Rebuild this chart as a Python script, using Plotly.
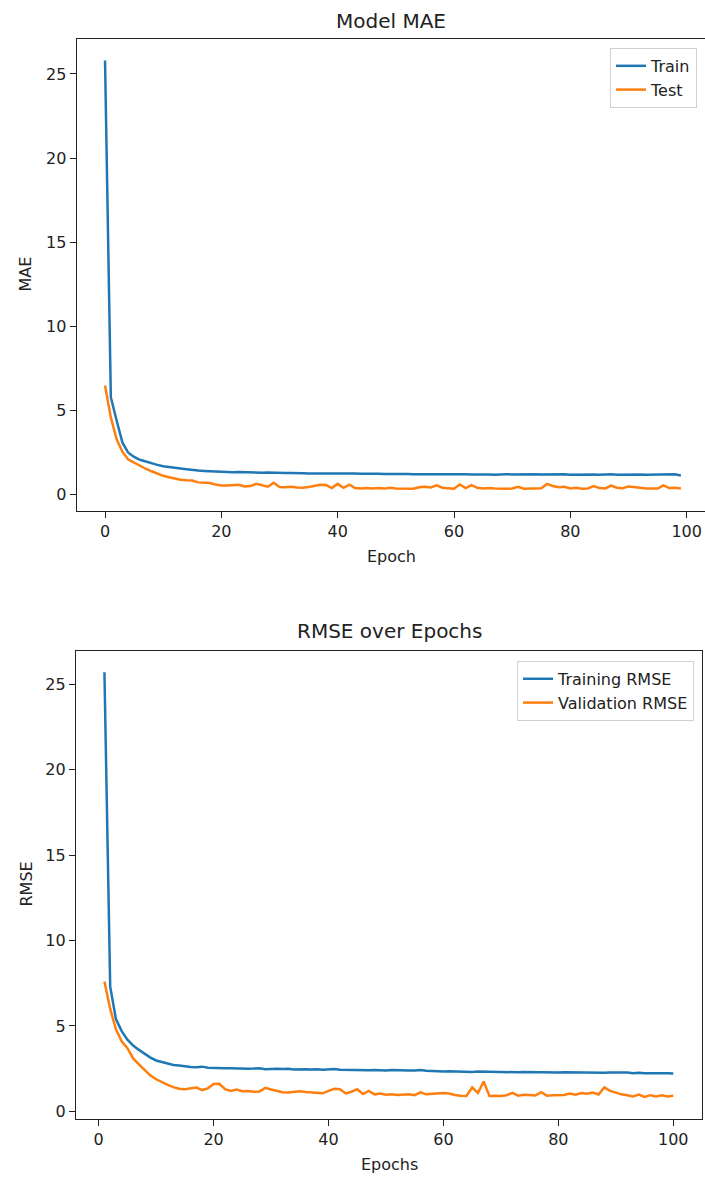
import plotly.graph_objects as go

# ---------------- data ----------------
mae_epochs = list(range(0, 100))
mae_train = [
    25.8, 5.8, 4.4, 3.1, 2.5, 2.25, 2.08, 1.97, 1.88, 1.78,
    1.70, 1.64, 1.60, 1.56, 1.52, 1.47, 1.44, 1.42, 1.40, 1.38,
    1.36, 1.35, 1.34, 1.35, 1.33, 1.32, 1.33, 1.31, 1.32, 1.30,
    1.31, 1.30, 1.29, 1.30, 1.28, 1.27, 1.28, 1.27, 1.26, 1.27,
    1.26, 1.27, 1.25, 1.26, 1.25, 1.26, 1.24, 1.25, 1.24, 1.25,
    1.24, 1.25, 1.24, 1.23, 1.24, 1.23, 1.24, 1.23, 1.22, 1.23,
    1.22, 1.23, 1.22, 1.21, 1.22, 1.23, 1.21, 1.20, 1.22, 1.23,
    1.21, 1.22, 1.21, 1.20, 1.22, 1.21, 1.22, 1.20, 1.21, 1.22,
    1.20, 1.21, 1.22, 1.20, 1.21, 1.19, 1.21, 1.22, 1.20, 1.21,
    1.19, 1.20, 1.21, 1.19, 1.20, 1.21, 1.19, 1.20, 1.22, 1.15,
]
mae_test = [
    6.5, 4.6, 3.3, 2.55, 2.1, 1.9, 1.72, 1.55, 1.40, 1.25,
    1.13, 1.05, 0.97, 0.90, 0.86, 0.85, 0.74, 0.72, 0.70, 0.62,
    0.56, 0.55, 0.58, 0.60, 0.50, 0.52, 0.66, 0.55, 0.48, 0.72,
    0.47, 0.45, 0.48, 0.44, 0.42, 0.46, 0.55, 0.60, 0.58, 0.40,
    0.65, 0.42, 0.60, 0.40, 0.38, 0.41, 0.38, 0.40, 0.37, 0.42,
    0.38, 0.37, 0.39, 0.36, 0.45, 0.48, 0.44, 0.56, 0.42, 0.37,
    0.36, 0.62, 0.40, 0.58, 0.42, 0.38, 0.40, 0.37, 0.35, 0.36,
    0.38, 0.48, 0.36, 0.37, 0.38, 0.39, 0.65, 0.52, 0.45, 0.48,
    0.38, 0.42, 0.36, 0.38, 0.52, 0.40, 0.38, 0.55, 0.42, 0.39,
    0.50, 0.44, 0.42, 0.38, 0.36, 0.37, 0.56, 0.40, 0.42, 0.38,
]

rmse_epochs = list(range(1, 101))
rmse_train = [
    25.7, 7.3, 5.4, 4.7, 4.2, 3.85, 3.6, 3.35, 3.15, 2.98,
    2.88, 2.80, 2.72, 2.68, 2.63, 2.60, 2.58, 2.62, 2.55, 2.53,
    2.55, 2.52, 2.53, 2.51, 2.52, 2.50, 2.51, 2.53, 2.47, 2.50,
    2.49, 2.48, 2.50, 2.46, 2.48, 2.47, 2.45, 2.47, 2.44, 2.46,
    2.48, 2.44, 2.43, 2.45, 2.42, 2.44, 2.41, 2.43, 2.41, 2.40,
    2.42, 2.40, 2.41, 2.39, 2.40, 2.42, 2.38, 2.36, 2.33, 2.34,
    2.35, 2.33, 2.34, 2.32, 2.31, 2.33, 2.32, 2.31, 2.32, 2.30,
    2.31, 2.30, 2.29, 2.31, 2.30, 2.28, 2.30, 2.29, 2.27, 2.28,
    2.29, 2.28, 2.27, 2.29, 2.26, 2.28, 2.27, 2.26, 2.27, 2.28,
    2.25, 2.27, 2.24, 2.26, 2.23, 2.24, 2.25, 2.23, 2.24, 2.22,
]
rmse_val = [
    7.6, 6.0, 4.8, 4.1, 3.7, 3.1, 2.75, 2.4, 2.1, 1.88,
    1.70, 1.55, 1.42, 1.33, 1.30, 1.34, 1.40, 1.25, 1.35, 1.60,
    1.62, 1.30, 1.20, 1.28, 1.18, 1.20, 1.15, 1.17, 1.38, 1.28,
    1.20, 1.12, 1.10, 1.15, 1.18, 1.14, 1.12, 1.08, 1.06, 1.20,
    1.32, 1.30, 1.05, 1.15, 1.30, 1.02, 1.20, 1.00, 1.05, 0.98,
    1.00, 0.96, 0.98, 1.00, 0.95, 1.12, 1.00, 1.04, 1.06, 1.08,
    1.05, 0.96, 0.92, 0.90, 1.40, 1.08, 1.75, 0.90, 0.92, 0.90,
    0.95, 1.08, 0.92, 0.98, 0.96, 0.93, 1.12, 0.92, 0.95, 0.94,
    0.96, 1.05, 0.98, 1.08, 1.04, 1.10, 0.99, 1.40, 1.20, 1.10,
    1.00, 0.95, 0.88, 0.98, 0.85, 0.95, 0.88, 0.94, 0.88, 0.92,
]

x_ticks = [0, 20, 40, 60, 80, 100]
y_ticks = [0, 5, 10, 15, 20, 25]

BLUE = "#1f77b4"
ORANGE = "#ff7f0e"
FONT = "DejaVu Sans"
W, H = 705, 1180

fig = go.Figure()
fig.add_trace(go.Scatter(x=mae_epochs, y=mae_train, mode="lines", name="Train",
                         line=dict(color=BLUE, width=2.5), xaxis="x", yaxis="y", legend="legend"))
fig.add_trace(go.Scatter(x=mae_epochs, y=mae_test, mode="lines", name="Test",
                         line=dict(color=ORANGE, width=2.5), xaxis="x", yaxis="y", legend="legend"))
fig.add_trace(go.Scatter(x=rmse_epochs, y=rmse_train, mode="lines", name="Training RMSE",
                         line=dict(color=BLUE, width=2.5), xaxis="x2", yaxis="y2", legend="legend2"))
fig.add_trace(go.Scatter(x=rmse_epochs, y=rmse_val, mode="lines", name="Validation RMSE",
                         line=dict(color=ORANGE, width=2.5), xaxis="x2", yaxis="y2", legend="legend2"))

axis_common = dict(showgrid=False, zeroline=False, showline=True, linecolor="#222222",
                   linewidth=1.3, ticks="outside", ticklen=6, tickwidth=1.3, tickcolor="#222222",
                   tickfont=dict(family=FONT, size=16, color="#222222"))

fig.update_layout(
    width=W, height=H,
    margin=dict(l=0, r=0, t=0, b=0),
    paper_bgcolor="white", plot_bgcolor="white",
    font=dict(family=FONT, color="#222222"),
    xaxis=dict(domain=[76.7 / W, 1.0], range=[-4.87, 103.15], anchor="y",
               tickvals=x_ticks, mirror=True, **axis_common),
    yaxis=dict(domain=[1 - 511.7 / H, 1 - 39 / H], range=[-0.95, 27.08], anchor="x",
               tickvals=y_ticks, mirror=False, **axis_common),
    xaxis2=dict(domain=[76 / W, 701.7 / W], range=[-3.95, 104.95], anchor="y2",
                tickvals=x_ticks, mirror=True, **axis_common),
    yaxis2=dict(domain=[1 - 1121 / H, 1 - 652 / H], range=[-0.45, 26.95], anchor="x2",
                tickvals=y_ticks, mirror=True, **axis_common),
    legend=dict(x=697 / W, xanchor="right", y=1 - 48 / H, yanchor="top",
                bgcolor="rgba(255,255,255,0.8)", bordercolor="#d0d0d0", borderwidth=1,
                font=dict(family=FONT, size=16, color="#222222"), itemwidth=30,
                tracegroupgap=0),
    legend2=dict(x=694 / W, xanchor="right", y=1 - 662 / H, yanchor="top",
                 bgcolor="rgba(255,255,255,0.8)", bordercolor="#d0d0d0", borderwidth=1,
                 font=dict(family=FONT, size=16, color="#222222"), itemwidth=30,
                 tracegroupgap=0),
    showlegend=True,
)

def ann(text, x, y, size, angle=0):
    fig.add_annotation(text=text, x=x / W, y=1 - y / H, xref="paper", yref="paper",
                       showarrow=False, xanchor="center", yanchor="middle", textangle=angle,
                       font=dict(family=FONT, size=size, color="#222222"))

ann("Model MAE", 391, 21, 20)
ann("RMSE over Epochs", 389, 632, 20)
ann("Epoch", 391, 557, 16)
ann("Epochs", 389, 1166, 16)
ann("MAE", 26, 275, 16, -90)
ann("RMSE", 26, 886, 16, -90)

fig.write_html("out.html")
